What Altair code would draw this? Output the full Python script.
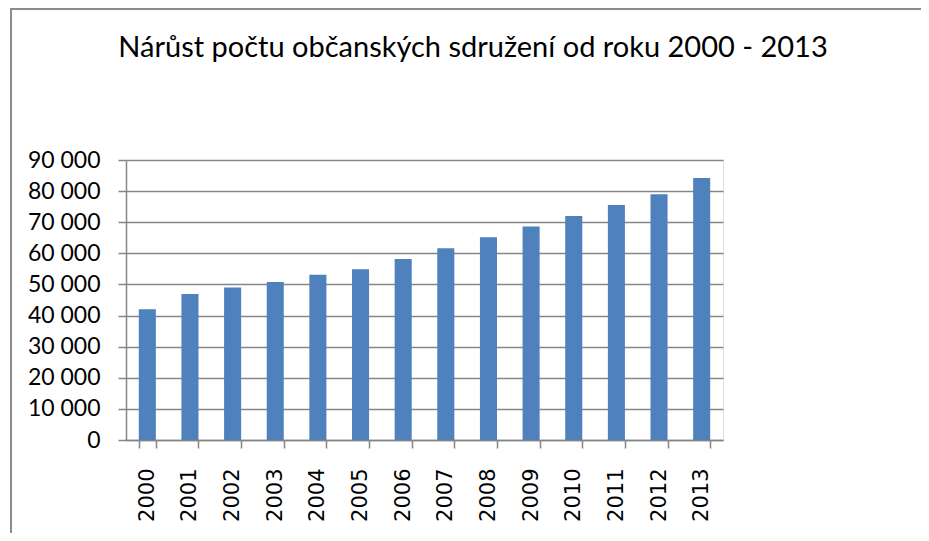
import altair as alt
import pandas as pd

years = [str(y) for y in range(2000, 2014)]
counts = [42000, 46900, 49000, 50800, 53100, 54900, 58200, 61600, 65200, 68600, 72000, 75500, 79000, 84200]
title_text = "Nárůst počtu občanských sdružení od roku 2000 - 2013"
y_ticks = [0, 10000, 20000, 30000, 40000, 50000, 60000, 70000, 80000, 90000]

df = pd.DataFrame({"rok": years, "pocet": counts})

W, H = 597, 280
PAD_L, PAD_T, PAD_R, PAD_B = 118, 152, 198, 93
GRID = "#868686"

one = pd.DataFrame({"t": [title_text]})

border_top = alt.Chart(one).mark_rule(
    stroke="#8c8c8c", strokeWidth=2, clip=False
).encode(
    x=alt.value(-116), x2=alt.value(W + PAD_R + 20),
    y=alt.value(-151),
)

border_left = alt.Chart(one).mark_rule(
    stroke="#8c8c8c", strokeWidth=2, clip=False
).encode(
    x=alt.value(-115),
    y=alt.value(-152), y2=alt.value(H + PAD_B + 20),
)

title = alt.Chart(one).mark_text(
    font="Lato", fontSize=29, color="#000000", align="center", baseline="alphabetic"
).encode(
    text="t:N", x=alt.value(347), y=alt.value(-103),
)

bars = alt.Chart(df).mark_bar(color="#4F81BD").encode(
    x=alt.X("rok:N", sort=years, title=None,
            scale=alt.Scale(paddingInner=0.6, paddingOuter=0.3),
            axis=alt.Axis(labelAngle=-90, labelFont="DejaVu Sans", labelFontSize=21,
                          labelColor="#000000", labelPadding=20, tickSize=8,
                          tickBand="extent", tickColor=GRID, domainColor=GRID,
                          tickWidth=1.5, domainWidth=1.5, grid=False)),
    y=alt.Y("pocet:Q", title=None,
            scale=alt.Scale(domain=[0, 90000], nice=False),
            axis=alt.Axis(values=y_ticks, labelFont="Lato", labelFontSize=23,
                          labelColor="#000000", labelPadding=18, tickSize=8,
                          tickColor=GRID, domainColor=GRID, gridColor=GRID,
                          tickWidth=1.5, domainWidth=1.5, gridWidth=1.5,
                          labelExpr="replace(format(datum.value, ','), ',', ' ')")),
)

chart = alt.layer(border_top, border_left, title, bars).properties(
    width=W, height=H,
    autosize=alt.AutoSizeParams(type="none"),
    padding={"left": PAD_L, "top": PAD_T, "right": PAD_R, "bottom": PAD_B},
).configure_view(stroke=None).configure(background="white")

chart.save("out.html", embed_options={"renderer": "svg", "actions": False})
